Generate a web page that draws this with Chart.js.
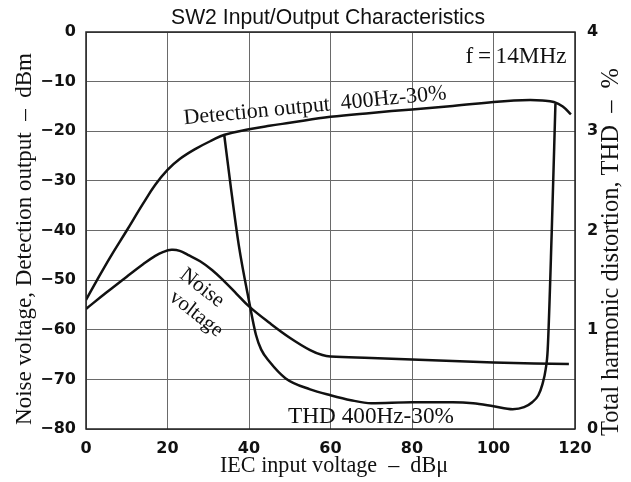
<!DOCTYPE html>
<html>
<head>
<meta charset="utf-8">
<script src="https://cdn.jsdelivr.net/npm/chart.js@4"></script>
<style>
  html, body { margin: 0; padding: 0; background: #fff; }
  #wrap { width: 631px; height: 482px; }
</style>
</head>
<body>
<div id="wrap"><canvas id="ioChart" width="631" height="482"></canvas></div>
<script>
// x axis: IEC input voltage (dBu)
const xTicks = [0, 20, 40, 60, 80, 100, 120];
const leftTicks = [0, -10, -20, -30, -40, -50, -60, -70, -80];
const rightTicks = [4, 3, 2, 1, 0];

// Detection output 400Hz-30% (dBm, left axis)
const detX = [0, 2.5, 6, 10, 14, 17, 20, 23, 27, 31, 34, 40, 45, 50, 60, 70, 80, 90, 100, 105, 109, 112, 114.8, 117, 119];
const detY = [-54, -50.3, -45.3, -40, -34.6, -30.8, -27.8, -25.6, -23.5, -21.8, -20.7, -19.6, -18.9, -18.3, -17.1, -16.3, -15.6, -14.9, -14.1, -13.8, -13.7, -13.8, -14.1, -15, -16.6];

// Noise voltage (dBm, left axis)
const noiseX = [0, 5, 10, 14, 17, 19, 21, 23, 25, 28, 31, 34, 37, 40, 45, 50, 55, 58, 60, 70, 80, 90, 100, 110, 118.5];
const noiseY = [-55.8, -52.5, -49.3, -46.8, -45.1, -44.3, -43.9, -44.1, -44.9, -46.2, -48.0, -50.3, -52.8, -55.3, -58.6, -61.6, -64.1, -65.1, -65.4, -65.7, -66, -66.3, -66.6, -66.8, -66.9];

// THD 400Hz-30% (%, right axis)
const thdX = [33.9, 35.5, 37.5, 40, 41.7, 43, 45, 49, 55, 60, 65, 70, 80, 90, 95, 100, 104.7, 107.5, 109.5, 111, 112, 112.8, 113.3, 114.3, 115.2];
const thdY = [2.97, 2.45, 1.85, 1.29, 0.95, 0.8, 0.68, 0.51, 0.4, 0.34, 0.29, 0.26, 0.27, 0.27, 0.26, 0.23, 0.2, 0.22, 0.27, 0.34, 0.45, 0.6, 0.8, 2.0, 3.28];

const toPoints = (xs, ys) => xs.map((x, i) => ({ x: x, y: ys[i] }));
const minus = v => (v < 0 ? '\u2212' + Math.abs(v) : String(v));

const serif = '"Liberation Serif", "Times New Roman", serif';
const tickFont = { family: '"DejaVu Sans", sans-serif', size: 16, weight: '600' };

// draw text scaled so that it spans the given width
function fitText(ctx, text, cx, cy, width, deg, family) {
    ctx.save();
    ctx.font = '20px ' + family;
    const size = 20 * width / ctx.measureText(text).width;
    ctx.font = size.toFixed(2) + 'px ' + family;
    ctx.translate(cx, cy);
    ctx.rotate(deg * Math.PI / 180);
    ctx.textAlign = 'center';
    ctx.textBaseline = 'middle';
    ctx.fillText(text, 0, 0);
    ctx.restore();
}

// extra text: title, axis titles and curve labels
const textPlugin = {
    id: 'texts',
    afterDraw(chart) {
        const ctx = chart.ctx;
        const a = chart.chartArea;
        ctx.save();
        ctx.strokeStyle = '#222';
        ctx.lineWidth = 1.5;
        ctx.strokeRect(a.left, a.top, a.right - a.left, a.bottom - a.top);

        ctx.fillStyle = '#111';
        fitText(ctx, 'SW2 Input/Output Characteristics', 328, 18, 314, 0, '"Liberation Sans", Arial, sans-serif');
        fitText(ctx, 'IEC input voltage  \u2013  dB\u03bc', 334, 466, 228, 0, serif);
        fitText(ctx, 'Noise voltage, Detection output  \u2013  dBm', 25, 239, 372, -90, serif);
        fitText(ctx, 'Total harmonic distortion, THD  \u2013  %', 612, 252, 368, -90, serif);
        fitText(ctx, 'f\u2009=\u200914MHz', 516, 57, 101, 0, serif);
        fitText(ctx, 'THD 400Hz-30%', 371, 417, 166, 0, serif);
        fitText(ctx, 'Detection output  400Hz-30%', 315, 106, 264, -5.5, serif);
        fitText(ctx, 'Noise', 202, 288, 50, 38, serif);
        fitText(ctx, 'voltage', 196, 314, 62, 38, serif);
        ctx.restore();
    }
};

const lineStyle = {
    borderColor: '#111',
    borderWidth: 2.5,
    pointRadius: 0,
    fill: false
};

const ctx = document.getElementById('ioChart').getContext('2d');
new Chart(ctx, {
    type: 'line',
    data: {
        datasets: [
            Object.assign({ label: 'Detection output', data: toPoints(detX, detY), yAxisID: 'y', tension: 0.4 }, lineStyle),
            Object.assign({ label: 'Noise voltage', data: toPoints(noiseX, noiseY), yAxisID: 'y', tension: 0.4 }, lineStyle),
            Object.assign({ label: 'THD', data: toPoints(thdX, thdY), yAxisID: 'y1', cubicInterpolationMode: 'monotone' }, lineStyle)
        ]
    },
    options: {
        responsive: false,
        animation: false,
        devicePixelRatio: 1,
        layout: { padding: { top: 32, left: 0, right: 0, bottom: 0 } },
        scales: {
            x: {
                type: 'linear',
                min: 0,
                max: 120,
                afterBuildTicks: s => { s.ticks = xTicks.map(v => ({ value: v })); },
                afterFit: s => { s.height = 53; },
                grid: { color: '#6a6a6a', lineWidth: 1, drawTicks: false },
                border: { display: false },
                ticks: { color: '#111', font: tickFont, padding: 10 }
            },
            y: {
                position: 'left',
                min: -80,
                max: 0,
                afterBuildTicks: s => { s.ticks = leftTicks.map(v => ({ value: v })); },
                afterFit: s => { s.width = 86; },
                grid: { color: '#6a6a6a', lineWidth: 1, drawTicks: false },
                border: { display: false },
                ticks: { color: '#111', font: tickFont, padding: 10, callback: v => minus(v) }
            },
            y1: {
                position: 'right',
                min: 0,
                max: 4,
                afterBuildTicks: s => { s.ticks = rightTicks.map(v => ({ value: v })); },
                afterFit: s => { s.width = 56; },
                grid: { drawOnChartArea: false, drawTicks: false },
                border: { display: false },
                ticks: { color: '#111', font: tickFont, padding: 12 }
            }
        },
        plugins: {
            legend: { display: false },
            tooltip: { enabled: false }
        }
    },
    plugins: [textPlugin]
});
</script>
</body>
</html>
